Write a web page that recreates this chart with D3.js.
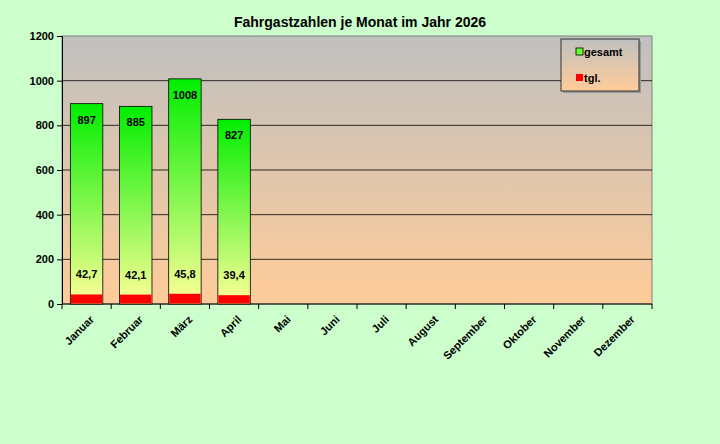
<!DOCTYPE html>
<html lang="de">
<head>
<meta charset="UTF-8">
<title>Fahrgastzahlen 2026</title>
<style>
    body { margin: 0; background: #ccffcc; font-family: 'Liberation Sans', Arial, sans-serif; }
    svg text { font-weight: bold; fill: #000; }
</style>
<script src="https://d3js.org/d3.v7.min.js"></script>
</head>
<body>
<svg id="chart" width="720" height="444"></svg>
<script>
    const monate = ["Januar", "Februar", "März", "April", "Mai", "Juni", "Juli", "August",
        "September", "Oktober", "November", "Dezember"];
    const gesamt = [897, 885, 1008, 827];
    const taeglich = [42.7, 42.1, 45.8, 39.4];
    const yTicks = [0, 200, 400, 600, 800, 1000, 1200];

    const svg = d3.select("#chart");
    const pLeft = 62, pRight = 652, pTop = 36, pBottom = 304;

    const defs = svg.append("defs");
    const bg = defs.append("linearGradient").attr("id", "bg").attr("x1", 0).attr("y1", 0).attr("x2", 0).attr("y2", 1);
    bg.append("stop").attr("offset", "0%").attr("stop-color", "#c0c0c0");
    bg.append("stop").attr("offset", "100%").attr("stop-color", "#ffcc99");
    const gr = defs.append("linearGradient").attr("id", "gr").attr("x1", 0).attr("y1", 0).attr("x2", 0).attr("y2", 1);
    gr.append("stop").attr("offset", "0%").attr("stop-color", "#00ee00");
    gr.append("stop").attr("offset", "100%").attr("stop-color", "#ffff99");

    const x = d3.scaleBand().domain(monate).range([pLeft, pRight]).paddingInner(0.34).paddingOuter(0.17);
    const y = d3.scaleLinear().domain([0, 1200]).range([pBottom, pTop]);

    svg.append("text").attr("x", 360).attr("y", 27).attr("text-anchor", "middle")
        .attr("font-size", 14).text("Fahrgastzahlen je Monat im Jahr 2026");

    svg.append("rect").attr("x", pLeft).attr("y", pTop).attr("width", pRight - pLeft)
        .attr("height", pBottom - pTop).attr("fill", "url(#bg)").attr("stroke", "#808080");

    svg.append("g").selectAll("line").data(yTicks.slice(1, -1)).join("line")
        .attr("x1", pLeft).attr("x2", pRight).attr("y1", d => y(d)).attr("y2", d => y(d))
        .attr("stroke", "#000").attr("stroke-width", 0.8);

    const yAxis = svg.append("g").attr("transform", `translate(${pLeft},0)`)
        .call(d3.axisLeft(y).tickValues(yTicks).tickSize(5).tickFormat(d3.format("d")));
    yAxis.selectAll("text").attr("font-size", 11).attr("font-family", "Liberation Sans, Arial");

    const xAxis = svg.append("g").attr("transform", `translate(0,${pBottom})`)
        .call(d3.axisBottom(x).tickSize(0));
    xAxis.select(".domain").remove();
    xAxis.selectAll("text").attr("font-size", 11).attr("font-family", "Liberation Sans, Arial")
        .attr("text-anchor", "end").attr("dy", 0)
        .attr("transform", "translate(6,14) rotate(-45)");
    svg.append("line").attr("x1", pLeft).attr("x2", pRight).attr("y1", pBottom).attr("y2", pBottom).attr("stroke", "#000");
    const step = (pRight - pLeft) / 12;
    svg.append("g").selectAll("line").data(d3.range(13)).join("line")
        .attr("x1", d => pLeft + d * step).attr("x2", d => pLeft + d * step)
        .attr("y1", pBottom).attr("y2", pBottom + 5).attr("stroke", "#000");

    svg.append("g").selectAll("rect").data(gesamt).join("rect")
        .attr("x", (d, i) => x(monate[i])).attr("y", d => y(d))
        .attr("width", x.bandwidth()).attr("height", d => pBottom - y(d))
        .attr("fill", "url(#gr)").attr("stroke", "#000").attr("stroke-width", 0.8);
    svg.append("g").selectAll("rect").data(taeglich).join("rect")
        .attr("x", (d, i) => x(monate[i]) + 0.5).attr("y", d => y(d))
        .attr("width", x.bandwidth() - 1).attr("height", d => pBottom - y(d) - 0.5)
        .attr("fill", "#ff0000");

    svg.append("g").selectAll("text").data(gesamt).join("text")
        .attr("x", (d, i) => x(monate[i]) + x.bandwidth() / 2).attr("y", d => y(d) + 20)
        .attr("text-anchor", "middle").attr("font-size", 11).text(d => d);
    svg.append("g").selectAll("text").data(taeglich).join("text")
        .attr("x", (d, i) => x(monate[i]) + x.bandwidth() / 2).attr("y", d => y(d) - 16)
        .attr("text-anchor", "middle").attr("font-size", 11)
        .text(d => d.toFixed(1).replace(".", ","));

    const lg = svg.append("g").attr("transform", "translate(561,39)");
    lg.append("rect").attr("x", 2).attr("y", 2).attr("width", 78).attr("height", 52).attr("fill", "#999");
    lg.append("rect").attr("width", 78).attr("height", 52).attr("fill", "url(#bg)").attr("stroke", "#333");
    lg.append("rect").attr("x", 15).attr("y", 9).attr("width", 7).attr("height", 7)
        .attr("fill", "#66ff33").attr("stroke", "#000").attr("stroke-width", 0.8);
    lg.append("text").attr("x", 23).attr("y", 17).attr("font-size", 11).text("gesamt");
    lg.append("rect").attr("x", 15).attr("y", 35).attr("width", 7).attr("height", 7).attr("fill", "#ff0000");
    lg.append("text").attr("x", 23).attr("y", 43).attr("font-size", 11).text("tgl.");
</script>
</body>
</html>
